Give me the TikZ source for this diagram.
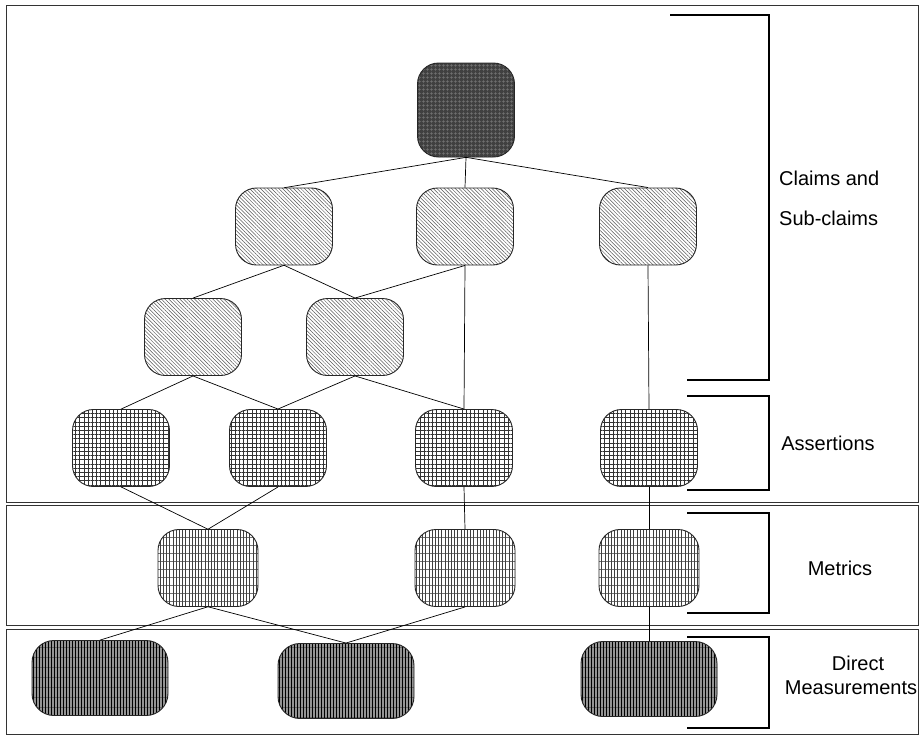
\documentclass[tikz,border=0pt]{standalone}
\usepackage{fontspec}
\setmainfont{Liberation Sans}
\usetikzlibrary{patterns.meta}
\begin{document}
\begin{tikzpicture}[x=1pt,y=-1pt,
  box/.style={draw=black!85, line width=0.9pt, rounded corners=21pt, inner sep=0pt,
    minimum width=97pt, minimum height=77pt},
  topbox/.style={box, minimum height=94pt,
    preaction={fill=black!75},
    pattern={Hatch[angle=0,distance=4pt,line width=0.7pt]}, pattern color=black!55},
  claimbox/.style={box,
    preaction={fill=white},
    pattern={Lines[angle=-45,distance=2.6pt,line width=0.5pt]}, pattern color=black!65},
  assertbox/.style={box,
    preaction={fill=white},
    pattern={Hatch[angle=0,distance=4.2pt,line width=0.75pt]}, pattern color=black!80},
  metricbox/.style={box, minimum width=100pt,
    preaction={fill=white},
    preaction={pattern={Lines[angle=0,distance=8pt,line width=0.5pt]}, pattern color=black!55},
    pattern={Lines[angle=90,distance=3.2pt,line width=0.5pt]}, pattern color=black!75},
  directbox/.style={box, minimum width=136pt, minimum height=75pt, rounded corners=22pt,
    preaction={fill=black!42},
    preaction={pattern={Lines[angle=0,distance=10pt,line width=0.5pt]}, pattern color=black!60},
    pattern={Lines[angle=90,distance=3pt,line width=0.8pt]}, pattern color=black},
  edge/.style={draw=black, line width=0.7pt},
  frame/.style={draw=black!80, line width=0.8pt},
  bracket/.style={draw=black, line width=1.8pt},
  lbl/.style={font=\fontsize{20}{24}\selectfont, inner sep=0pt}
]
\useasboundingbox (0,0) rectangle (924,737);
\fill[white] (0,0) rectangle (924,737);

% frames
\draw[frame] (6,5) rectangle (918,502);
\draw[frame] (6,505) rectangle (918,625);
\draw[frame] (6,629) rectangle (918,734);

% brackets
\draw[bracket] (670,15) -- (769,15) -- (769,380) -- (687,380);
\draw[bracket] (687,396) -- (769,396) -- (769,490) -- (687,490);
\draw[bracket] (687,513) -- (769,513) -- (769,613) -- (687,613);
\draw[bracket] (687,637) -- (769,637) -- (769,728) -- (687,728);

% labels
\node[lbl, anchor=west] (lclaims) at (779,178) {Claims and};
\node[lbl, anchor=west] (lsub) at (779,218) {Sub-claims};
\node[lbl] (lassert) at (828,443) {Assertions};
\node[lbl] (lmetric) at (840,568) {Metrics};
\node[lbl] (ldirect) at (858,663) {Direct};
\node[lbl] (lmeas) at (851,688) {Measurements};

% nodes
\node[topbox] (top) at (466,110) {};
\node[claimbox] (c1) at (284,226.5) {};
\node[claimbox] (c2) at (465,226.5) {};
\node[claimbox] (c3) at (648,226.5) {};
\node[claimbox] (s1) at (193,337) {};
\node[claimbox] (s2) at (355,337) {};
\node[assertbox] (a1) at (121,448) {};
\node[assertbox] (a2) at (278,448) {};
\node[assertbox] (a3) at (464,448) {};
\node[assertbox] (a4) at (649,448) {};
\node[metricbox] (m1) at (208,568) {};
\node[metricbox] (m2) at (465,568) {};
\node[metricbox] (m3) at (649,568) {};
\node[directbox] (d1) at (100,678) {};
\node[directbox] (d2) at (346,681) {};
\node[directbox] (d3) at (649,679) {};

% edges
\draw[edge] (top.south) -- (c1.north);
\draw[edge] (top.south) -- (c2.north);
\draw[edge] (top.south) -- (c3.north);
\draw[edge] (c1.south) -- (s1.north);
\draw[edge] (c1.south) -- (s2.north);
\draw[edge] (c2.south) -- (s2.north);
\draw[edge] (c2.south) -- (a3.north);
\draw[edge] (c3.south) -- (a4.north);
\draw[edge] (s1.south) -- (a1.north);
\draw[edge] (s1.south) -- (a2.north);
\draw[edge] (s2.south) -- (a2.north);
\draw[edge] (s2.south) -- (a3.north);
\draw[edge] (a1.south) -- (m1.north);
\draw[edge] (a2.south) -- (m1.north);
\draw[edge] (a3.south) -- (m2.north);
\draw[edge] (a4.south) -- (m3.north);
\draw[edge] (m1.south) -- (d1.north);
\draw[edge] (m1.south) -- (d2.north);
\draw[edge] (m2.south) -- (d2.north);
\draw[edge] (m3.south) -- (d3.north);
\end{tikzpicture}
\end{document}
